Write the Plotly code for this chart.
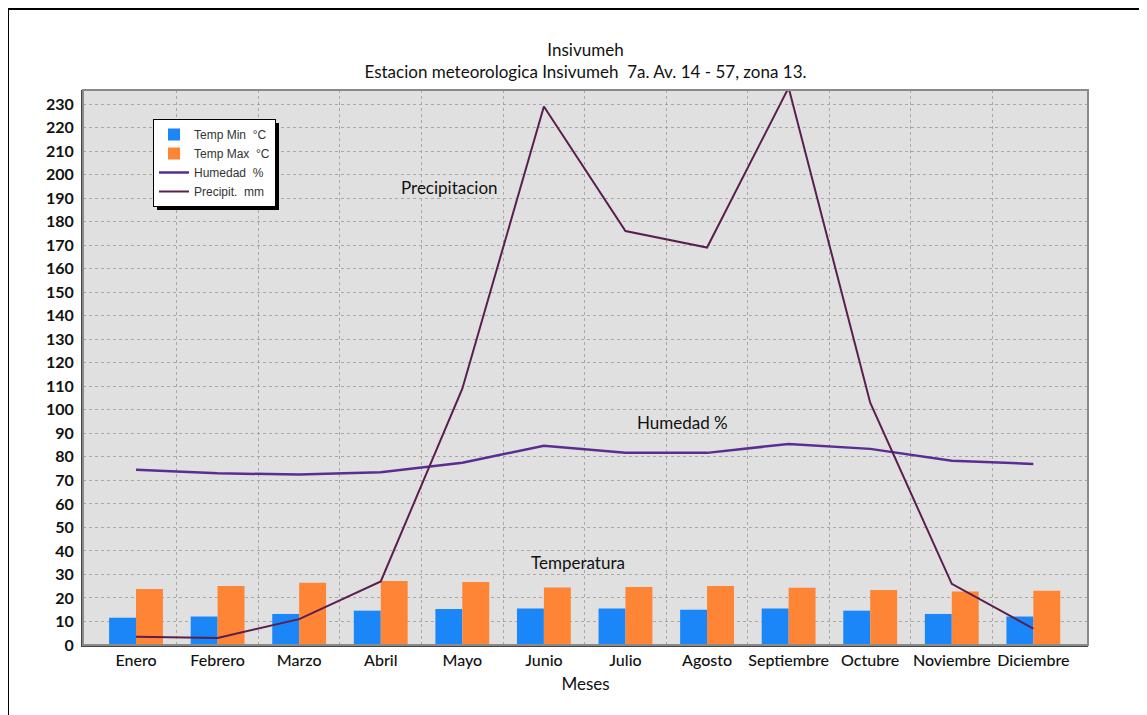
import plotly.graph_objects as go

meses = ["Enero", "Febrero", "Marzo", "Abril", "Mayo", "Junio", "Julio",
         "Agosto", "Septiembre", "Octubre", "Noviembre", "Diciembre"]
temp_min = [11.6, 12.1, 13.2, 14.6, 15.3, 15.5, 15.5, 15.0, 15.5, 14.6, 13.2, 12.1]
temp_max = [23.8, 25.1, 26.5, 27.2, 26.8, 24.5, 24.7, 25.1, 24.3, 23.4, 22.7, 23.1]
humedad = [74.5, 73.0, 72.5, 73.5, 77.5, 84.7, 81.7, 81.7, 85.5, 83.4, 78.3, 77.0]
precip = [3.5, 3.0, 11.0, 27.0, 109.0, 229.0, 176.0, 169.0, 237.0, 103.0, 26.0, 7.0]
y_ticks = list(range(0, 240, 10))

xpos = list(range(len(meses)))

fig = go.Figure()
fig.add_trace(go.Bar(x=xpos, y=temp_min, name="Temp Min  °C", marker_color="#1a86f7",
                     marker_line_width=0))
fig.add_trace(go.Bar(x=xpos, y=temp_max, name="Temp Max  °C", marker_color="#fd8535",
                     marker_line_width=0))
fig.add_trace(go.Scatter(x=xpos, y=humedad, name="Humedad  %", mode="lines",
                         line=dict(color="#5b2d91", width=2.5)))
fig.add_trace(go.Scatter(x=xpos, y=precip, name="Precipit.  mm", mode="lines",
                         line=dict(color="#5a1f4e", width=2)))

OFF = 8  # browser body margin
W, H = 1147 - OFF, 715 - OFF
L, T = 83 - OFF, 90 - OFF
R = 1147 - 1088
B = 715 - 645
pw, ph = W - L - R, H - T - B

def px_to_paper(x, y):
    # x, y given in reference window pixels
    return (x - OFF - L) / pw, (H - B - (y - OFF)) / ph

lx, ly = px_to_paper(153, 119)
sx0, sy0 = px_to_paper(157, 123)
sx1, sy1 = px_to_paper(279, 210)
fx0, fy_top = px_to_paper(8, 9)
fx1, fy_bot = px_to_paper(1147, 715)

fig.update_layout(
    width=W, height=H,
    margin=dict(l=L, r=R, t=T, b=B),
    paper_bgcolor="white",
    plot_bgcolor="#e0e0e0",
    barmode="group",
    bargap=0.34,
    bargroupgap=0,
    title=dict(text="Insivumeh<br>Estacion meteorologica Insivumeh  7a. Av. 14 - 57, zona 13.",
               x=(L + pw / 2) / W, xanchor="center", y=1 - (56 - OFF) / H, yanchor="middle",
               font=dict(family="Lato", size=17, color="#111")),
    font=dict(family="Lato", color="#111"),
    legend=dict(x=lx, y=ly, xanchor="left", yanchor="top",
                bgcolor="white", bordercolor="black", borderwidth=1,
                font=dict(family="Liberation Sans", size=12, color="#333"),
                tracegroupgap=0, itemwidth=30),
    xaxis=dict(range=[-0.65, 11.67], tickvals=xpos, ticktext=meses, showgrid=False,
               tickfont=dict(family="Lato", size=16, color="#111", weight=500),
               showline=True, linecolor="#444", linewidth=2, mirror=False,
               ticks="", zeroline=False,
               minor=dict(tickvals=[i + 0.5 for i in range(11)], showgrid=True,
                          gridcolor="#a8a8a8", griddash="dot", gridwidth=1, ticks=""),
               title=dict(text="Meses", font=dict(family="Lato", size=17, color="#111"),
                          standoff=10)),
    yaxis=dict(range=[0, 236], tickvals=y_ticks, showgrid=True, gridcolor="#a8a8a8",
               griddash="dot", gridwidth=1, zeroline=False,
               tickfont=dict(family="Lato", size=16, color="#111", weight=700),
               showline=True, linecolor="#444", linewidth=2, ticks="", ticklabelstandoff=4),
    shapes=[
        dict(type="rect", xref="paper", yref="paper", x0=sx0, y0=sy1, x1=sx1, y1=sy0,
             fillcolor="black", line_width=0, layer="above"),
        dict(type="rect", xref="paper", yref="paper", x0=0, y0=0, x1=1, y1=1,
             line=dict(color="#8a8a8a", width=2), layer="above"),
        dict(type="line", xref="paper", yref="paper", x0=fx0, x1=fx0,
             y0=fy_bot, y1=fy_top, line=dict(color="black", width=2)),
        dict(type="line", xref="paper", yref="paper", x0=fx0, x1=fx1,
             y0=fy_top, y1=fy_top, line=dict(color="black", width=2)),
    ],
    annotations=[
        dict(x=3.84, y=194.5, text="Precipitacion", showarrow=False,
             font=dict(family="Lato", size=17, color="#111")),
        dict(x=6.7, y=94.5, text="Humedad %", showarrow=False,
             font=dict(family="Lato", size=17, color="#111")),
        dict(x=5.42, y=35, text="Temperatura", showarrow=False,
             font=dict(family="Lato", size=17, color="#111")),
    ],
)

fig.write_html("out.html")
